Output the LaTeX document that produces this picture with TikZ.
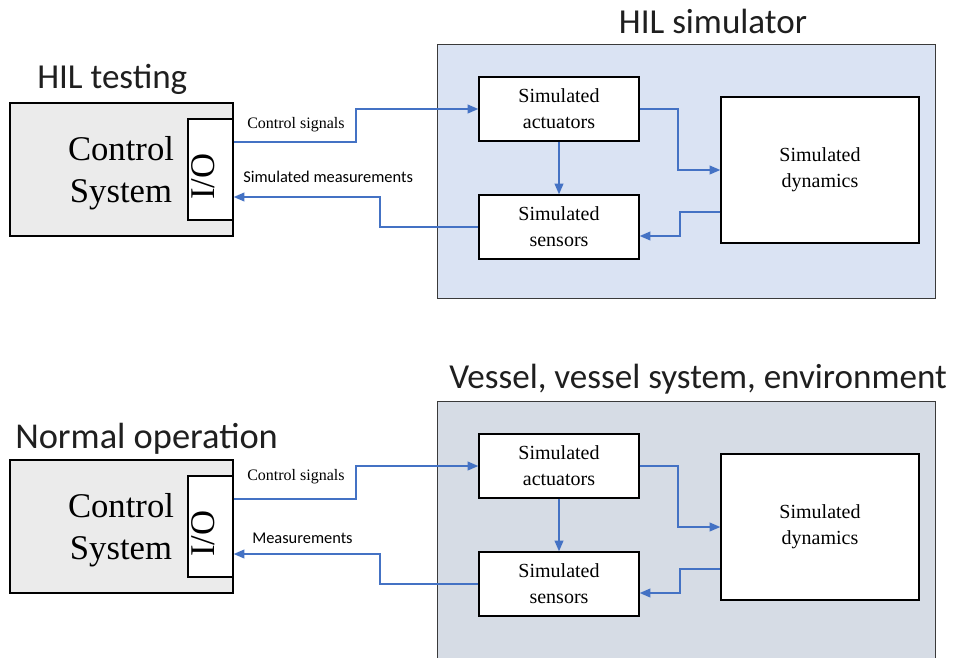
\documentclass[tikz,border=0pt]{standalone}
\usepackage{fontspec}
\setmainfont{Liberation Serif}
\newfontfamily\headfont{Carlito}
\usetikzlibrary{arrows.meta,calc}

\definecolor{flowblue}{HTML}{4472C4}
\definecolor{ctrlgray}{HTML}{EBEBEB}
\definecolor{simblue}{HTML}{DAE3F3}
\definecolor{vesselgray}{HTML}{D6DCE5}
\definecolor{framegray}{HTML}{3A3A3A}

% one drawing unit is one pixel of the layout grid
\newcommand\pxu{0.75pt}

\tikzset{
  block/.style={draw=black, line width=1pt, fill=white, inner sep=0pt,
    align=center, font=\fontsize{15}{19.5}\selectfont},
  ctrlbox/.style={draw=black, line width=1pt, fill=ctrlgray, inner sep=0pt},
  simbox/.style={draw=framegray, line width=1pt, inner sep=0pt, anchor=north west},
  bigtext/.style={inner sep=0pt, align=center, font=\fontsize{26}{31.5}\selectfont},
  flow/.style={draw=flowblue, line width=1.3pt, -{Triangle[length=8pt,width=6.5pt]}},
  heading/.style={inner sep=0pt, font=\headfont\fontsize{26.3}{30}\selectfont, text=black!88},
  siglabel/.style={inner sep=0pt, anchor=base west, font=\fontsize{12}{14}\selectfont},
  measlabel/.style={inner sep=0pt, anchor=base west, font=\headfont\fontsize{12.3}{14}\selectfont},
}

% #1 vertical offset, #2 name prefix, #3 fill of the plant box, #4 lower edge of the plant box
\newcommand\hilpanel[4]{%
  \begin{scope}[shift={(0,#1)}]
    \node[simbox, fill=#3, minimum width=498*\pxu, minimum height={(#4-44)*\pxu}] (#2sim) at (437,44) {};
    \node[ctrlbox, minimum width=223*\pxu, minimum height=133*\pxu] (#2ctrl) at (121.5,169.5) {};
    \node[bigtext] (#2ctrltext) at (121,173) {Control\\System};
    \node[block, minimum width=45*\pxu, minimum height=101*\pxu] (#2io) at (210.5,169.5) {};
    \node[inner sep=0pt, rotate=90, font=\fontsize{26}{30}\selectfont] (#2iotext) at ($(#2io.center)+(-7,7)$) {I/O};
    \node[block, minimum width=160*\pxu, minimum height=64*\pxu] (#2act) at (559,109) {Simulated\\actuators};
    \node[block, minimum width=160*\pxu, minimum height=64*\pxu] (#2sen) at (559,227) {Simulated\\sensors};
    \node[block, minimum width=198*\pxu, minimum height=146*\pxu] (#2dyn) at (820,170) {Simulated\\dynamics};
    % signal paths
    \draw[flow] ($(#2io.east)+(0,-27.5)$) -| ($(#2act.west)+(-122,0)$) -- (#2act.west);
    \draw[flow] (#2sen.west) -| ($(#2io.east)+(146.5,27.5)$) -- ($(#2io.east)+(0,27.5)$);
    \draw[flow] (#2act.south) -- (#2sen.north);
    \draw[flow] (#2act.east) -| ($(#2dyn.west)+(-42,0)$) -- (#2dyn.west);
    \draw[flow] ($(#2dyn.west)+(0,42)$) -| ($(#2sen.east)+(40,9)$) -- ($(#2sen.east)+(0,9)$);
  \end{scope}}

\begin{document}
\begin{tikzpicture}[x=0.75pt, y=-0.75pt]
  \useasboundingbox (0,0) rectangle (973,657);
  \fill[white] (0,0) rectangle (973,657);

  % hardware-in-the-loop test set-up
  \hilpanel{0}{t}{simblue}{298}
  \node[heading, anchor=base west] (ttitle) at (37,88) {HIL testing};
  \node[heading, anchor=base] (tsimtitle) at (713,33) {HIL simulator};
  \node[siglabel] (tcs) at (247,128) {Control signals};
  \node[measlabel] (tmeas) at (243,182) {Simulated measurements};

  % normal operation on board
  \hilpanel{357}{b}{vesselgray}{360}
  \node[heading, anchor=base west, font=\headfont\fontsize{27.3}{30}\selectfont] (btitle) at (15,448) {Normal operation};
  \node[heading, anchor=base] (bsimtitle) at (698,388) {Vessel, vessel system, environment};
  \node[siglabel] (bcs) at (247,480) {Control signals};
  \node[measlabel] (bmeas) at (252,543) {Measurements};
\end{tikzpicture}
\end{document}
